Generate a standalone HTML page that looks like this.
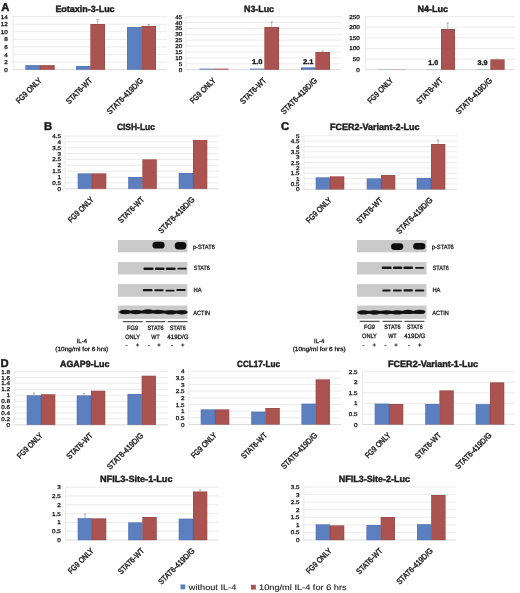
<!DOCTYPE html>
<html><head><meta charset="utf-8"><style>
html,body{margin:0;padding:0;background:#fff;}
svg{display:block;will-change:transform;}
text{font-family:"Liberation Sans", sans-serif;fill:#1a1a1a;text-rendering:geometricPrecision;}
</style></head><body>
<svg width="520" height="593" viewBox="0 0 520 593">
<rect width="520" height="593" fill="#fff"/>
<line x1="13.20" y1="69.70" x2="167.00" y2="69.70" stroke="#d0d0d0" stroke-width="0.8"/>
<line x1="13.20" y1="62.11" x2="167.00" y2="62.11" stroke="#e6e6e6" stroke-width="0.8"/>
<line x1="13.20" y1="54.53" x2="167.00" y2="54.53" stroke="#e6e6e6" stroke-width="0.8"/>
<line x1="13.20" y1="46.94" x2="167.00" y2="46.94" stroke="#e6e6e6" stroke-width="0.8"/>
<line x1="13.20" y1="39.36" x2="167.00" y2="39.36" stroke="#e6e6e6" stroke-width="0.8"/>
<line x1="13.20" y1="31.77" x2="167.00" y2="31.77" stroke="#e6e6e6" stroke-width="0.8"/>
<line x1="13.20" y1="24.19" x2="167.00" y2="24.19" stroke="#e6e6e6" stroke-width="0.8"/>
<line x1="13.20" y1="16.60" x2="167.00" y2="16.60" stroke="#e6e6e6" stroke-width="0.8"/>
<line x1="13.20" y1="16.60" x2="13.20" y2="69.70" stroke="#e4e4e4" stroke-width="0.8"/>
<text x="7.90" y="71.72" font-size="5.6" textLength="3.55" lengthAdjust="spacingAndGlyphs" text-anchor="end" stroke="#1a1a1a" stroke-width="0.28">0</text>
<text x="7.90" y="64.13" font-size="5.6" textLength="3.55" lengthAdjust="spacingAndGlyphs" text-anchor="end" stroke="#1a1a1a" stroke-width="0.28">2</text>
<text x="7.90" y="56.54" font-size="5.6" textLength="3.55" lengthAdjust="spacingAndGlyphs" text-anchor="end" stroke="#1a1a1a" stroke-width="0.28">4</text>
<text x="7.90" y="48.96" font-size="5.6" textLength="3.55" lengthAdjust="spacingAndGlyphs" text-anchor="end" stroke="#1a1a1a" stroke-width="0.28">6</text>
<text x="7.90" y="41.37" font-size="5.6" textLength="3.55" lengthAdjust="spacingAndGlyphs" text-anchor="end" stroke="#1a1a1a" stroke-width="0.28">8</text>
<text x="7.90" y="33.79" font-size="5.6" textLength="7.10" lengthAdjust="spacingAndGlyphs" text-anchor="end" stroke="#1a1a1a" stroke-width="0.28">10</text>
<text x="7.90" y="26.20" font-size="5.6" textLength="7.10" lengthAdjust="spacingAndGlyphs" text-anchor="end" stroke="#1a1a1a" stroke-width="0.28">12</text>
<text x="7.90" y="18.62" font-size="5.6" textLength="7.10" lengthAdjust="spacingAndGlyphs" text-anchor="end" stroke="#1a1a1a" stroke-width="0.28">14</text>
<rect x="25.50" y="65.20" width="14.50" height="4.50" fill="#5c7fc0"/>
<rect x="25.80" y="65.50" width="13.90" height="4.20" fill="none" stroke="#4c6aa8" stroke-width="0.6" stroke-opacity="0.6"/>
<rect x="40.00" y="65.20" width="14.50" height="4.50" fill="#aa5350"/>
<rect x="40.30" y="65.50" width="13.90" height="4.20" fill="none" stroke="#8e4242" stroke-width="0.6" stroke-opacity="0.6"/>
<rect x="76.00" y="66.00" width="14.50" height="3.70" fill="#5c7fc0"/>
<rect x="76.30" y="66.30" width="13.90" height="3.40" fill="none" stroke="#4c6aa8" stroke-width="0.6" stroke-opacity="0.6"/>
<rect x="90.50" y="24.00" width="14.50" height="45.70" fill="#aa5350"/>
<rect x="90.80" y="24.30" width="13.90" height="45.40" fill="none" stroke="#8e4242" stroke-width="0.6" stroke-opacity="0.6"/>
<rect x="127.00" y="27.00" width="14.50" height="42.70" fill="#5c7fc0"/>
<rect x="127.30" y="27.30" width="13.90" height="42.40" fill="none" stroke="#4c6aa8" stroke-width="0.6" stroke-opacity="0.6"/>
<rect x="141.50" y="26.00" width="14.50" height="43.70" fill="#aa5350"/>
<rect x="141.80" y="26.30" width="13.90" height="43.40" fill="none" stroke="#8e4242" stroke-width="0.6" stroke-opacity="0.6"/>
<path d="M97.75 24.00V19.40M96.55 19.40H98.95" stroke="#8a9a9a" stroke-width="0.7" fill="none"/>
<path d="M148.75 26.00V24.50M147.55 24.50H149.95" stroke="#8a9a9a" stroke-width="0.7" fill="none"/>
<text x="55.40" y="11.90" font-size="9.0" font-weight="bold" textLength="59.20" lengthAdjust="spacingAndGlyphs" stroke="#1a1a1a" stroke-width="0.42">Eotaxin-3-Luc</text>
<text x="42.20" y="81.00" font-size="8.1" text-anchor="end" stroke="#1a1a1a" stroke-width="0.4" transform="rotate(-45 42.20 81.00)" textLength="32.60" lengthAdjust="spacingAndGlyphs">FG9 ONLY</text>
<text x="92.70" y="81.00" font-size="8.1" text-anchor="end" stroke="#1a1a1a" stroke-width="0.4" transform="rotate(-45 92.70 81.00)" textLength="33.20" lengthAdjust="spacingAndGlyphs">STAT6-WT</text>
<text x="143.70" y="81.00" font-size="8.1" text-anchor="end" stroke="#1a1a1a" stroke-width="0.4" transform="rotate(-45 143.70 81.00)" textLength="47.80" lengthAdjust="spacingAndGlyphs">STAT6-419D/G</text>
<line x1="186.00" y1="69.70" x2="341.00" y2="69.70" stroke="#d0d0d0" stroke-width="0.8"/>
<line x1="186.00" y1="63.80" x2="341.00" y2="63.80" stroke="#e6e6e6" stroke-width="0.8"/>
<line x1="186.00" y1="57.90" x2="341.00" y2="57.90" stroke="#e6e6e6" stroke-width="0.8"/>
<line x1="186.00" y1="52.00" x2="341.00" y2="52.00" stroke="#e6e6e6" stroke-width="0.8"/>
<line x1="186.00" y1="46.10" x2="341.00" y2="46.10" stroke="#e6e6e6" stroke-width="0.8"/>
<line x1="186.00" y1="40.20" x2="341.00" y2="40.20" stroke="#e6e6e6" stroke-width="0.8"/>
<line x1="186.00" y1="34.30" x2="341.00" y2="34.30" stroke="#e6e6e6" stroke-width="0.8"/>
<line x1="186.00" y1="28.40" x2="341.00" y2="28.40" stroke="#e6e6e6" stroke-width="0.8"/>
<line x1="186.00" y1="22.50" x2="341.00" y2="22.50" stroke="#e6e6e6" stroke-width="0.8"/>
<line x1="186.00" y1="16.60" x2="341.00" y2="16.60" stroke="#e6e6e6" stroke-width="0.8"/>
<line x1="186.00" y1="16.60" x2="186.00" y2="69.70" stroke="#e4e4e4" stroke-width="0.8"/>
<text x="182.40" y="71.72" font-size="5.6" textLength="3.55" lengthAdjust="spacingAndGlyphs" text-anchor="end" stroke="#1a1a1a" stroke-width="0.28">0</text>
<text x="182.40" y="65.82" font-size="5.6" textLength="3.55" lengthAdjust="spacingAndGlyphs" text-anchor="end" stroke="#1a1a1a" stroke-width="0.28">5</text>
<text x="182.40" y="59.92" font-size="5.6" textLength="7.10" lengthAdjust="spacingAndGlyphs" text-anchor="end" stroke="#1a1a1a" stroke-width="0.28">10</text>
<text x="182.40" y="54.02" font-size="5.6" textLength="7.10" lengthAdjust="spacingAndGlyphs" text-anchor="end" stroke="#1a1a1a" stroke-width="0.28">15</text>
<text x="182.40" y="48.12" font-size="5.6" textLength="7.10" lengthAdjust="spacingAndGlyphs" text-anchor="end" stroke="#1a1a1a" stroke-width="0.28">20</text>
<text x="182.40" y="42.22" font-size="5.6" textLength="7.10" lengthAdjust="spacingAndGlyphs" text-anchor="end" stroke="#1a1a1a" stroke-width="0.28">25</text>
<text x="182.40" y="36.32" font-size="5.6" textLength="7.10" lengthAdjust="spacingAndGlyphs" text-anchor="end" stroke="#1a1a1a" stroke-width="0.28">30</text>
<text x="182.40" y="30.42" font-size="5.6" textLength="7.10" lengthAdjust="spacingAndGlyphs" text-anchor="end" stroke="#1a1a1a" stroke-width="0.28">35</text>
<text x="182.40" y="24.52" font-size="5.6" textLength="7.10" lengthAdjust="spacingAndGlyphs" text-anchor="end" stroke="#1a1a1a" stroke-width="0.28">40</text>
<text x="182.40" y="18.62" font-size="5.6" textLength="7.10" lengthAdjust="spacingAndGlyphs" text-anchor="end" stroke="#1a1a1a" stroke-width="0.28">45</text>
<rect x="199.50" y="68.60" width="14.50" height="1.10" fill="#5c7fc0"/>
<rect x="214.00" y="68.60" width="14.50" height="1.10" fill="#aa5350"/>
<rect x="250.00" y="68.60" width="14.50" height="1.10" fill="#5c7fc0"/>
<rect x="264.50" y="27.00" width="14.50" height="42.70" fill="#aa5350"/>
<rect x="264.80" y="27.30" width="13.90" height="42.40" fill="none" stroke="#8e4242" stroke-width="0.6" stroke-opacity="0.6"/>
<rect x="301.00" y="67.50" width="14.50" height="2.20" fill="#5c7fc0"/>
<rect x="301.30" y="67.80" width="13.90" height="1.90" fill="none" stroke="#4c6aa8" stroke-width="0.6" stroke-opacity="0.6"/>
<rect x="315.50" y="52.00" width="14.50" height="17.70" fill="#aa5350"/>
<rect x="315.80" y="52.30" width="13.90" height="17.40" fill="none" stroke="#8e4242" stroke-width="0.6" stroke-opacity="0.6"/>
<path d="M271.75 27.00V22.00M270.55 22.00H272.95" stroke="#8a9a9a" stroke-width="0.7" fill="none"/>
<path d="M322.75 52.00V51.00M321.55 51.00H323.95" stroke="#8a9a9a" stroke-width="0.7" fill="none"/>
<text x="244.00" y="11.90" font-size="9.0" font-weight="bold" textLength="30.00" lengthAdjust="spacingAndGlyphs" stroke="#1a1a1a" stroke-width="0.42">N3-Luc</text>
<text x="216.20" y="81.00" font-size="8.1" text-anchor="end" stroke="#1a1a1a" stroke-width="0.4" transform="rotate(-45 216.20 81.00)" textLength="32.60" lengthAdjust="spacingAndGlyphs">FG9 ONLY</text>
<text x="266.70" y="81.00" font-size="8.1" text-anchor="end" stroke="#1a1a1a" stroke-width="0.4" transform="rotate(-45 266.70 81.00)" textLength="33.20" lengthAdjust="spacingAndGlyphs">STAT6-WT</text>
<text x="317.70" y="81.00" font-size="8.1" text-anchor="end" stroke="#1a1a1a" stroke-width="0.4" transform="rotate(-45 317.70 81.00)" textLength="47.80" lengthAdjust="spacingAndGlyphs">STAT6-419D/G</text>
<text x="252.00" y="64.20" font-size="6.8" font-weight="bold" textLength="10.50" lengthAdjust="spacingAndGlyphs" stroke="#1a1a1a" stroke-width="0.35">1.0</text>
<text x="303.00" y="64.20" font-size="6.8" font-weight="bold" textLength="10.50" lengthAdjust="spacingAndGlyphs" stroke="#1a1a1a" stroke-width="0.35">2.1</text>
<line x1="365.30" y1="69.70" x2="515.00" y2="69.70" stroke="#d0d0d0" stroke-width="0.8"/>
<line x1="365.30" y1="59.08" x2="515.00" y2="59.08" stroke="#e6e6e6" stroke-width="0.8"/>
<line x1="365.30" y1="48.46" x2="515.00" y2="48.46" stroke="#e6e6e6" stroke-width="0.8"/>
<line x1="365.30" y1="37.84" x2="515.00" y2="37.84" stroke="#e6e6e6" stroke-width="0.8"/>
<line x1="365.30" y1="27.22" x2="515.00" y2="27.22" stroke="#e6e6e6" stroke-width="0.8"/>
<line x1="365.30" y1="16.60" x2="515.00" y2="16.60" stroke="#e6e6e6" stroke-width="0.8"/>
<line x1="365.30" y1="16.60" x2="365.30" y2="69.70" stroke="#e4e4e4" stroke-width="0.8"/>
<text x="359.80" y="71.72" font-size="5.6" textLength="3.55" lengthAdjust="spacingAndGlyphs" text-anchor="end" stroke="#1a1a1a" stroke-width="0.28">0</text>
<text x="359.80" y="61.10" font-size="5.6" textLength="7.10" lengthAdjust="spacingAndGlyphs" text-anchor="end" stroke="#1a1a1a" stroke-width="0.28">50</text>
<text x="359.80" y="50.48" font-size="5.6" textLength="10.65" lengthAdjust="spacingAndGlyphs" text-anchor="end" stroke="#1a1a1a" stroke-width="0.28">100</text>
<text x="359.80" y="39.86" font-size="5.6" textLength="10.65" lengthAdjust="spacingAndGlyphs" text-anchor="end" stroke="#1a1a1a" stroke-width="0.28">150</text>
<text x="359.80" y="29.24" font-size="5.6" textLength="10.65" lengthAdjust="spacingAndGlyphs" text-anchor="end" stroke="#1a1a1a" stroke-width="0.28">200</text>
<text x="359.80" y="18.62" font-size="5.6" textLength="10.65" lengthAdjust="spacingAndGlyphs" text-anchor="end" stroke="#1a1a1a" stroke-width="0.28">250</text>
<rect x="377.50" y="69.40" width="14.00" height="0.30" fill="#5c7fc0"/>
<rect x="391.50" y="69.40" width="14.00" height="0.30" fill="#aa5350"/>
<rect x="427.00" y="69.40" width="14.00" height="0.30" fill="#5c7fc0"/>
<rect x="441.00" y="29.00" width="14.00" height="40.70" fill="#aa5350"/>
<rect x="441.30" y="29.30" width="13.40" height="40.40" fill="none" stroke="#8e4242" stroke-width="0.6" stroke-opacity="0.6"/>
<rect x="476.50" y="69.40" width="14.00" height="0.30" fill="#5c7fc0"/>
<rect x="490.50" y="59.50" width="14.00" height="10.20" fill="#aa5350"/>
<rect x="490.80" y="59.80" width="13.40" height="9.90" fill="none" stroke="#8e4242" stroke-width="0.6" stroke-opacity="0.6"/>
<path d="M447.75 29.00V23.00M446.55 23.00H448.95" stroke="#8a9a9a" stroke-width="0.7" fill="none"/>
<path d="M497.25 59.50V59.00M496.05 59.00H498.45" stroke="#8a9a9a" stroke-width="0.7" fill="none"/>
<text x="417.50" y="11.90" font-size="9.0" font-weight="bold" textLength="30.50" lengthAdjust="spacingAndGlyphs" stroke="#1a1a1a" stroke-width="0.42">N4-Luc</text>
<text x="393.70" y="81.00" font-size="8.1" text-anchor="end" stroke="#1a1a1a" stroke-width="0.4" transform="rotate(-45 393.70 81.00)" textLength="32.60" lengthAdjust="spacingAndGlyphs">FG9 ONLY</text>
<text x="443.20" y="81.00" font-size="8.1" text-anchor="end" stroke="#1a1a1a" stroke-width="0.4" transform="rotate(-45 443.20 81.00)" textLength="33.20" lengthAdjust="spacingAndGlyphs">STAT6-WT</text>
<text x="492.70" y="81.00" font-size="8.1" text-anchor="end" stroke="#1a1a1a" stroke-width="0.4" transform="rotate(-45 492.70 81.00)" textLength="47.80" lengthAdjust="spacingAndGlyphs">STAT6-419D/G</text>
<text x="428.20" y="65.20" font-size="6.8" font-weight="bold" textLength="10.00" lengthAdjust="spacingAndGlyphs" stroke="#1a1a1a" stroke-width="0.35">1.0</text>
<text x="477.60" y="65.20" font-size="6.8" font-weight="bold" textLength="10.00" lengthAdjust="spacingAndGlyphs" stroke="#1a1a1a" stroke-width="0.35">3.9</text>
<line x1="65.00" y1="188.80" x2="219.00" y2="188.80" stroke="#d0d0d0" stroke-width="0.8"/>
<line x1="65.00" y1="182.93" x2="219.00" y2="182.93" stroke="#e6e6e6" stroke-width="0.8"/>
<line x1="65.00" y1="177.07" x2="219.00" y2="177.07" stroke="#e6e6e6" stroke-width="0.8"/>
<line x1="65.00" y1="171.20" x2="219.00" y2="171.20" stroke="#e6e6e6" stroke-width="0.8"/>
<line x1="65.00" y1="165.33" x2="219.00" y2="165.33" stroke="#e6e6e6" stroke-width="0.8"/>
<line x1="65.00" y1="159.47" x2="219.00" y2="159.47" stroke="#e6e6e6" stroke-width="0.8"/>
<line x1="65.00" y1="153.60" x2="219.00" y2="153.60" stroke="#e6e6e6" stroke-width="0.8"/>
<line x1="65.00" y1="147.73" x2="219.00" y2="147.73" stroke="#e6e6e6" stroke-width="0.8"/>
<line x1="65.00" y1="141.87" x2="219.00" y2="141.87" stroke="#e6e6e6" stroke-width="0.8"/>
<line x1="65.00" y1="136.00" x2="219.00" y2="136.00" stroke="#e6e6e6" stroke-width="0.8"/>
<line x1="65.00" y1="136.00" x2="65.00" y2="188.80" stroke="#e4e4e4" stroke-width="0.8"/>
<text x="61.00" y="190.82" font-size="5.6" textLength="3.55" lengthAdjust="spacingAndGlyphs" text-anchor="end" stroke="#1a1a1a" stroke-width="0.28">0</text>
<text x="61.00" y="184.95" font-size="5.6" textLength="8.72" lengthAdjust="spacingAndGlyphs" text-anchor="end" stroke="#1a1a1a" stroke-width="0.28">0.5</text>
<text x="61.00" y="179.08" font-size="5.6" textLength="3.55" lengthAdjust="spacingAndGlyphs" text-anchor="end" stroke="#1a1a1a" stroke-width="0.28">1</text>
<text x="61.00" y="173.22" font-size="5.6" textLength="8.72" lengthAdjust="spacingAndGlyphs" text-anchor="end" stroke="#1a1a1a" stroke-width="0.28">1.5</text>
<text x="61.00" y="167.35" font-size="5.6" textLength="3.55" lengthAdjust="spacingAndGlyphs" text-anchor="end" stroke="#1a1a1a" stroke-width="0.28">2</text>
<text x="61.00" y="161.48" font-size="5.6" textLength="8.72" lengthAdjust="spacingAndGlyphs" text-anchor="end" stroke="#1a1a1a" stroke-width="0.28">2.5</text>
<text x="61.00" y="155.62" font-size="5.6" textLength="3.55" lengthAdjust="spacingAndGlyphs" text-anchor="end" stroke="#1a1a1a" stroke-width="0.28">3</text>
<text x="61.00" y="149.75" font-size="5.6" textLength="8.72" lengthAdjust="spacingAndGlyphs" text-anchor="end" stroke="#1a1a1a" stroke-width="0.28">3.5</text>
<text x="61.00" y="143.88" font-size="5.6" textLength="3.55" lengthAdjust="spacingAndGlyphs" text-anchor="end" stroke="#1a1a1a" stroke-width="0.28">4</text>
<text x="61.00" y="138.02" font-size="5.6" textLength="8.72" lengthAdjust="spacingAndGlyphs" text-anchor="end" stroke="#1a1a1a" stroke-width="0.28">4.5</text>
<rect x="77.80" y="173.50" width="14.20" height="15.30" fill="#5c7fc0"/>
<rect x="78.10" y="173.80" width="13.60" height="15.00" fill="none" stroke="#4c6aa8" stroke-width="0.6" stroke-opacity="0.6"/>
<rect x="92.00" y="173.50" width="14.20" height="15.30" fill="#aa5350"/>
<rect x="92.30" y="173.80" width="13.60" height="15.00" fill="none" stroke="#8e4242" stroke-width="0.6" stroke-opacity="0.6"/>
<rect x="128.30" y="177.00" width="14.20" height="11.80" fill="#5c7fc0"/>
<rect x="128.60" y="177.30" width="13.60" height="11.50" fill="none" stroke="#4c6aa8" stroke-width="0.6" stroke-opacity="0.6"/>
<rect x="142.50" y="159.50" width="14.20" height="29.30" fill="#aa5350"/>
<rect x="142.80" y="159.80" width="13.60" height="29.00" fill="none" stroke="#8e4242" stroke-width="0.6" stroke-opacity="0.6"/>
<rect x="178.80" y="173.00" width="14.20" height="15.80" fill="#5c7fc0"/>
<rect x="179.10" y="173.30" width="13.60" height="15.50" fill="none" stroke="#4c6aa8" stroke-width="0.6" stroke-opacity="0.6"/>
<rect x="193.00" y="140.00" width="14.20" height="48.80" fill="#aa5350"/>
<rect x="193.30" y="140.30" width="13.60" height="48.50" fill="none" stroke="#8e4242" stroke-width="0.6" stroke-opacity="0.6"/>
<text x="116.90" y="129.80" font-size="9.0" font-weight="bold" textLength="38.00" lengthAdjust="spacingAndGlyphs" stroke="#1a1a1a" stroke-width="0.42">CISH-Luc</text>
<text x="94.20" y="200.10" font-size="8.1" text-anchor="end" stroke="#1a1a1a" stroke-width="0.4" transform="rotate(-45 94.20 200.10)" textLength="32.60" lengthAdjust="spacingAndGlyphs">FG9 ONLY</text>
<text x="144.70" y="200.10" font-size="8.1" text-anchor="end" stroke="#1a1a1a" stroke-width="0.4" transform="rotate(-45 144.70 200.10)" textLength="33.20" lengthAdjust="spacingAndGlyphs">STAT6-WT</text>
<text x="195.20" y="200.10" font-size="8.1" text-anchor="end" stroke="#1a1a1a" stroke-width="0.4" transform="rotate(-45 195.20 200.10)" textLength="47.80" lengthAdjust="spacingAndGlyphs">STAT6-419D/G</text>
<line x1="304.00" y1="189.30" x2="457.00" y2="189.30" stroke="#d0d0d0" stroke-width="0.8"/>
<line x1="304.00" y1="183.95" x2="457.00" y2="183.95" stroke="#e6e6e6" stroke-width="0.8"/>
<line x1="304.00" y1="178.60" x2="457.00" y2="178.60" stroke="#e6e6e6" stroke-width="0.8"/>
<line x1="304.00" y1="173.25" x2="457.00" y2="173.25" stroke="#e6e6e6" stroke-width="0.8"/>
<line x1="304.00" y1="167.90" x2="457.00" y2="167.90" stroke="#e6e6e6" stroke-width="0.8"/>
<line x1="304.00" y1="162.55" x2="457.00" y2="162.55" stroke="#e6e6e6" stroke-width="0.8"/>
<line x1="304.00" y1="157.20" x2="457.00" y2="157.20" stroke="#e6e6e6" stroke-width="0.8"/>
<line x1="304.00" y1="151.85" x2="457.00" y2="151.85" stroke="#e6e6e6" stroke-width="0.8"/>
<line x1="304.00" y1="146.50" x2="457.00" y2="146.50" stroke="#e6e6e6" stroke-width="0.8"/>
<line x1="304.00" y1="141.15" x2="457.00" y2="141.15" stroke="#e6e6e6" stroke-width="0.8"/>
<line x1="304.00" y1="135.80" x2="457.00" y2="135.80" stroke="#e6e6e6" stroke-width="0.8"/>
<line x1="304.00" y1="135.80" x2="304.00" y2="189.30" stroke="#e4e4e4" stroke-width="0.8"/>
<text x="299.50" y="191.32" font-size="5.6" textLength="3.55" lengthAdjust="spacingAndGlyphs" text-anchor="end" stroke="#1a1a1a" stroke-width="0.28">0</text>
<text x="299.50" y="185.97" font-size="5.6" textLength="8.72" lengthAdjust="spacingAndGlyphs" text-anchor="end" stroke="#1a1a1a" stroke-width="0.28">0.5</text>
<text x="299.50" y="180.62" font-size="5.6" textLength="3.55" lengthAdjust="spacingAndGlyphs" text-anchor="end" stroke="#1a1a1a" stroke-width="0.28">1</text>
<text x="299.50" y="175.27" font-size="5.6" textLength="8.72" lengthAdjust="spacingAndGlyphs" text-anchor="end" stroke="#1a1a1a" stroke-width="0.28">1.5</text>
<text x="299.50" y="169.92" font-size="5.6" textLength="3.55" lengthAdjust="spacingAndGlyphs" text-anchor="end" stroke="#1a1a1a" stroke-width="0.28">2</text>
<text x="299.50" y="164.57" font-size="5.6" textLength="8.72" lengthAdjust="spacingAndGlyphs" text-anchor="end" stroke="#1a1a1a" stroke-width="0.28">2.5</text>
<text x="299.50" y="159.22" font-size="5.6" textLength="3.55" lengthAdjust="spacingAndGlyphs" text-anchor="end" stroke="#1a1a1a" stroke-width="0.28">3</text>
<text x="299.50" y="153.87" font-size="5.6" textLength="8.72" lengthAdjust="spacingAndGlyphs" text-anchor="end" stroke="#1a1a1a" stroke-width="0.28">3.5</text>
<text x="299.50" y="148.52" font-size="5.6" textLength="3.55" lengthAdjust="spacingAndGlyphs" text-anchor="end" stroke="#1a1a1a" stroke-width="0.28">4</text>
<text x="299.50" y="143.17" font-size="5.6" textLength="8.72" lengthAdjust="spacingAndGlyphs" text-anchor="end" stroke="#1a1a1a" stroke-width="0.28">4.5</text>
<text x="299.50" y="137.82" font-size="5.6" textLength="3.55" lengthAdjust="spacingAndGlyphs" text-anchor="end" stroke="#1a1a1a" stroke-width="0.28">5</text>
<rect x="315.80" y="177.50" width="14.20" height="11.80" fill="#5c7fc0"/>
<rect x="316.10" y="177.80" width="13.60" height="11.50" fill="none" stroke="#4c6aa8" stroke-width="0.6" stroke-opacity="0.6"/>
<rect x="330.00" y="176.50" width="14.20" height="12.80" fill="#aa5350"/>
<rect x="330.30" y="176.80" width="13.60" height="12.50" fill="none" stroke="#8e4242" stroke-width="0.6" stroke-opacity="0.6"/>
<rect x="366.80" y="178.50" width="14.20" height="10.80" fill="#5c7fc0"/>
<rect x="367.10" y="178.80" width="13.60" height="10.50" fill="none" stroke="#4c6aa8" stroke-width="0.6" stroke-opacity="0.6"/>
<rect x="381.00" y="175.00" width="14.20" height="14.30" fill="#aa5350"/>
<rect x="381.30" y="175.30" width="13.60" height="14.00" fill="none" stroke="#8e4242" stroke-width="0.6" stroke-opacity="0.6"/>
<rect x="416.80" y="178.00" width="14.20" height="11.30" fill="#5c7fc0"/>
<rect x="417.10" y="178.30" width="13.60" height="11.00" fill="none" stroke="#4c6aa8" stroke-width="0.6" stroke-opacity="0.6"/>
<rect x="431.00" y="144.00" width="14.20" height="45.30" fill="#aa5350"/>
<rect x="431.30" y="144.30" width="13.60" height="45.00" fill="none" stroke="#8e4242" stroke-width="0.6" stroke-opacity="0.6"/>
<path d="M438.10 144.00V140.00M436.90 140.00H439.30" stroke="#8a9a9a" stroke-width="0.7" fill="none"/>
<text x="330.00" y="130.00" font-size="9.0" font-weight="bold" textLength="89.50" lengthAdjust="spacingAndGlyphs" stroke="#1a1a1a" stroke-width="0.42">FCER2-Variant-2-Luc</text>
<text x="332.20" y="200.60" font-size="8.1" text-anchor="end" stroke="#1a1a1a" stroke-width="0.4" transform="rotate(-45 332.20 200.60)" textLength="32.60" lengthAdjust="spacingAndGlyphs">FG9 ONLY</text>
<text x="383.20" y="200.60" font-size="8.1" text-anchor="end" stroke="#1a1a1a" stroke-width="0.4" transform="rotate(-45 383.20 200.60)" textLength="33.20" lengthAdjust="spacingAndGlyphs">STAT6-WT</text>
<text x="433.20" y="200.60" font-size="8.1" text-anchor="end" stroke="#1a1a1a" stroke-width="0.4" transform="rotate(-45 433.20 200.60)" textLength="47.80" lengthAdjust="spacingAndGlyphs">STAT6-419D/G</text>
<line x1="14.70" y1="424.80" x2="168.00" y2="424.80" stroke="#d0d0d0" stroke-width="0.8"/>
<line x1="14.70" y1="418.89" x2="168.00" y2="418.89" stroke="#e6e6e6" stroke-width="0.8"/>
<line x1="14.70" y1="412.98" x2="168.00" y2="412.98" stroke="#e6e6e6" stroke-width="0.8"/>
<line x1="14.70" y1="407.07" x2="168.00" y2="407.07" stroke="#e6e6e6" stroke-width="0.8"/>
<line x1="14.70" y1="401.16" x2="168.00" y2="401.16" stroke="#e6e6e6" stroke-width="0.8"/>
<line x1="14.70" y1="395.24" x2="168.00" y2="395.24" stroke="#e6e6e6" stroke-width="0.8"/>
<line x1="14.70" y1="389.33" x2="168.00" y2="389.33" stroke="#e6e6e6" stroke-width="0.8"/>
<line x1="14.70" y1="383.42" x2="168.00" y2="383.42" stroke="#e6e6e6" stroke-width="0.8"/>
<line x1="14.70" y1="377.51" x2="168.00" y2="377.51" stroke="#e6e6e6" stroke-width="0.8"/>
<line x1="14.70" y1="371.60" x2="168.00" y2="371.60" stroke="#e6e6e6" stroke-width="0.8"/>
<line x1="14.70" y1="371.60" x2="14.70" y2="424.80" stroke="#e4e4e4" stroke-width="0.8"/>
<text x="10.00" y="426.82" font-size="5.6" textLength="3.55" lengthAdjust="spacingAndGlyphs" text-anchor="end" stroke="#1a1a1a" stroke-width="0.28">0</text>
<text x="10.00" y="420.90" font-size="5.6" textLength="8.72" lengthAdjust="spacingAndGlyphs" text-anchor="end" stroke="#1a1a1a" stroke-width="0.28">0.2</text>
<text x="10.00" y="414.99" font-size="5.6" textLength="8.72" lengthAdjust="spacingAndGlyphs" text-anchor="end" stroke="#1a1a1a" stroke-width="0.28">0.4</text>
<text x="10.00" y="409.08" font-size="5.6" textLength="8.72" lengthAdjust="spacingAndGlyphs" text-anchor="end" stroke="#1a1a1a" stroke-width="0.28">0.6</text>
<text x="10.00" y="403.17" font-size="5.6" textLength="8.72" lengthAdjust="spacingAndGlyphs" text-anchor="end" stroke="#1a1a1a" stroke-width="0.28">0.8</text>
<text x="10.00" y="397.26" font-size="5.6" textLength="3.55" lengthAdjust="spacingAndGlyphs" text-anchor="end" stroke="#1a1a1a" stroke-width="0.28">1</text>
<text x="10.00" y="391.35" font-size="5.6" textLength="8.72" lengthAdjust="spacingAndGlyphs" text-anchor="end" stroke="#1a1a1a" stroke-width="0.28">1.2</text>
<text x="10.00" y="385.44" font-size="5.6" textLength="8.72" lengthAdjust="spacingAndGlyphs" text-anchor="end" stroke="#1a1a1a" stroke-width="0.28">1.4</text>
<text x="10.00" y="379.53" font-size="5.6" textLength="8.72" lengthAdjust="spacingAndGlyphs" text-anchor="end" stroke="#1a1a1a" stroke-width="0.28">1.6</text>
<text x="10.00" y="373.62" font-size="5.6" textLength="8.72" lengthAdjust="spacingAndGlyphs" text-anchor="end" stroke="#1a1a1a" stroke-width="0.28">1.8</text>
<rect x="26.80" y="395.40" width="14.20" height="29.40" fill="#5c7fc0"/>
<rect x="27.10" y="395.70" width="13.60" height="29.10" fill="none" stroke="#4c6aa8" stroke-width="0.6" stroke-opacity="0.6"/>
<rect x="41.00" y="394.40" width="14.20" height="30.40" fill="#aa5350"/>
<rect x="41.30" y="394.70" width="13.60" height="30.10" fill="none" stroke="#8e4242" stroke-width="0.6" stroke-opacity="0.6"/>
<rect x="76.80" y="395.50" width="14.20" height="29.30" fill="#5c7fc0"/>
<rect x="77.10" y="395.80" width="13.60" height="29.00" fill="none" stroke="#4c6aa8" stroke-width="0.6" stroke-opacity="0.6"/>
<rect x="91.00" y="390.80" width="14.20" height="34.00" fill="#aa5350"/>
<rect x="91.30" y="391.10" width="13.60" height="33.70" fill="none" stroke="#8e4242" stroke-width="0.6" stroke-opacity="0.6"/>
<rect x="127.55" y="394.00" width="14.20" height="30.80" fill="#5c7fc0"/>
<rect x="127.85" y="394.30" width="13.60" height="30.50" fill="none" stroke="#4c6aa8" stroke-width="0.6" stroke-opacity="0.6"/>
<rect x="141.75" y="375.80" width="14.20" height="49.00" fill="#aa5350"/>
<rect x="142.05" y="376.10" width="13.60" height="48.70" fill="none" stroke="#8e4242" stroke-width="0.6" stroke-opacity="0.6"/>
<path d="M33.90 395.40V393.00M32.70 393.00H35.10" stroke="#8a9a9a" stroke-width="0.7" fill="none"/>
<path d="M84.00 395.50V393.50M82.80 393.50H85.20" stroke="#8a9a9a" stroke-width="0.7" fill="none"/>
<text x="60.00" y="367.30" font-size="9.0" font-weight="bold" textLength="49.50" lengthAdjust="spacingAndGlyphs" stroke="#1a1a1a" stroke-width="0.42">AGAP9-Luc</text>
<text x="43.20" y="436.10" font-size="8.1" text-anchor="end" stroke="#1a1a1a" stroke-width="0.4" transform="rotate(-45 43.20 436.10)" textLength="32.60" lengthAdjust="spacingAndGlyphs">FG9 ONLY</text>
<text x="93.20" y="436.10" font-size="8.1" text-anchor="end" stroke="#1a1a1a" stroke-width="0.4" transform="rotate(-45 93.20 436.10)" textLength="33.20" lengthAdjust="spacingAndGlyphs">STAT6-WT</text>
<text x="143.95" y="436.10" font-size="8.1" text-anchor="end" stroke="#1a1a1a" stroke-width="0.4" transform="rotate(-45 143.95 436.10)" textLength="47.80" lengthAdjust="spacingAndGlyphs">STAT6-419D/G</text>
<line x1="188.75" y1="424.50" x2="341.00" y2="424.50" stroke="#d0d0d0" stroke-width="0.8"/>
<line x1="188.75" y1="417.84" x2="341.00" y2="417.84" stroke="#e6e6e6" stroke-width="0.8"/>
<line x1="188.75" y1="411.19" x2="341.00" y2="411.19" stroke="#e6e6e6" stroke-width="0.8"/>
<line x1="188.75" y1="404.53" x2="341.00" y2="404.53" stroke="#e6e6e6" stroke-width="0.8"/>
<line x1="188.75" y1="397.88" x2="341.00" y2="397.88" stroke="#e6e6e6" stroke-width="0.8"/>
<line x1="188.75" y1="391.22" x2="341.00" y2="391.22" stroke="#e6e6e6" stroke-width="0.8"/>
<line x1="188.75" y1="384.56" x2="341.00" y2="384.56" stroke="#e6e6e6" stroke-width="0.8"/>
<line x1="188.75" y1="377.91" x2="341.00" y2="377.91" stroke="#e6e6e6" stroke-width="0.8"/>
<line x1="188.75" y1="371.25" x2="341.00" y2="371.25" stroke="#e6e6e6" stroke-width="0.8"/>
<line x1="188.75" y1="371.25" x2="188.75" y2="424.50" stroke="#e4e4e4" stroke-width="0.8"/>
<text x="184.50" y="426.52" font-size="5.6" textLength="3.55" lengthAdjust="spacingAndGlyphs" text-anchor="end" stroke="#1a1a1a" stroke-width="0.28">0</text>
<text x="184.50" y="419.86" font-size="5.6" textLength="8.72" lengthAdjust="spacingAndGlyphs" text-anchor="end" stroke="#1a1a1a" stroke-width="0.28">0.5</text>
<text x="184.50" y="413.20" font-size="5.6" textLength="3.55" lengthAdjust="spacingAndGlyphs" text-anchor="end" stroke="#1a1a1a" stroke-width="0.28">1</text>
<text x="184.50" y="406.55" font-size="5.6" textLength="8.72" lengthAdjust="spacingAndGlyphs" text-anchor="end" stroke="#1a1a1a" stroke-width="0.28">1.5</text>
<text x="184.50" y="399.89" font-size="5.6" textLength="3.55" lengthAdjust="spacingAndGlyphs" text-anchor="end" stroke="#1a1a1a" stroke-width="0.28">2</text>
<text x="184.50" y="393.23" font-size="5.6" textLength="8.72" lengthAdjust="spacingAndGlyphs" text-anchor="end" stroke="#1a1a1a" stroke-width="0.28">2.5</text>
<text x="184.50" y="386.58" font-size="5.6" textLength="3.55" lengthAdjust="spacingAndGlyphs" text-anchor="end" stroke="#1a1a1a" stroke-width="0.28">3</text>
<text x="184.50" y="379.92" font-size="5.6" textLength="8.72" lengthAdjust="spacingAndGlyphs" text-anchor="end" stroke="#1a1a1a" stroke-width="0.28">3.5</text>
<text x="184.50" y="373.27" font-size="5.6" textLength="3.55" lengthAdjust="spacingAndGlyphs" text-anchor="end" stroke="#1a1a1a" stroke-width="0.28">4</text>
<rect x="200.80" y="409.50" width="14.20" height="15.00" fill="#5c7fc0"/>
<rect x="201.10" y="409.80" width="13.60" height="14.70" fill="none" stroke="#4c6aa8" stroke-width="0.6" stroke-opacity="0.6"/>
<rect x="215.00" y="409.50" width="14.20" height="15.00" fill="#aa5350"/>
<rect x="215.30" y="409.80" width="13.60" height="14.70" fill="none" stroke="#8e4242" stroke-width="0.6" stroke-opacity="0.6"/>
<rect x="251.30" y="411.75" width="14.20" height="12.75" fill="#5c7fc0"/>
<rect x="251.60" y="412.05" width="13.60" height="12.45" fill="none" stroke="#4c6aa8" stroke-width="0.6" stroke-opacity="0.6"/>
<rect x="265.50" y="408.00" width="14.20" height="16.50" fill="#aa5350"/>
<rect x="265.80" y="408.30" width="13.60" height="16.20" fill="none" stroke="#8e4242" stroke-width="0.6" stroke-opacity="0.6"/>
<rect x="301.55" y="403.75" width="14.20" height="20.75" fill="#5c7fc0"/>
<rect x="301.85" y="404.05" width="13.60" height="20.45" fill="none" stroke="#4c6aa8" stroke-width="0.6" stroke-opacity="0.6"/>
<rect x="315.75" y="379.50" width="14.20" height="45.00" fill="#aa5350"/>
<rect x="316.05" y="379.80" width="13.60" height="44.70" fill="none" stroke="#8e4242" stroke-width="0.6" stroke-opacity="0.6"/>
<text x="237.00" y="367.30" font-size="9.0" font-weight="bold" textLength="43.00" lengthAdjust="spacingAndGlyphs" stroke="#1a1a1a" stroke-width="0.42">CCL17-Luc</text>
<text x="217.20" y="435.80" font-size="8.1" text-anchor="end" stroke="#1a1a1a" stroke-width="0.4" transform="rotate(-45 217.20 435.80)" textLength="32.60" lengthAdjust="spacingAndGlyphs">FG9 ONLY</text>
<text x="267.70" y="435.80" font-size="8.1" text-anchor="end" stroke="#1a1a1a" stroke-width="0.4" transform="rotate(-45 267.70 435.80)" textLength="33.20" lengthAdjust="spacingAndGlyphs">STAT6-WT</text>
<text x="317.95" y="435.80" font-size="8.1" text-anchor="end" stroke="#1a1a1a" stroke-width="0.4" transform="rotate(-45 317.95 435.80)" textLength="47.80" lengthAdjust="spacingAndGlyphs">STAT6-419D/G</text>
<line x1="362.50" y1="424.50" x2="515.00" y2="424.50" stroke="#d0d0d0" stroke-width="0.8"/>
<line x1="362.50" y1="413.95" x2="515.00" y2="413.95" stroke="#e6e6e6" stroke-width="0.8"/>
<line x1="362.50" y1="403.40" x2="515.00" y2="403.40" stroke="#e6e6e6" stroke-width="0.8"/>
<line x1="362.50" y1="392.85" x2="515.00" y2="392.85" stroke="#e6e6e6" stroke-width="0.8"/>
<line x1="362.50" y1="382.30" x2="515.00" y2="382.30" stroke="#e6e6e6" stroke-width="0.8"/>
<line x1="362.50" y1="371.75" x2="515.00" y2="371.75" stroke="#e6e6e6" stroke-width="0.8"/>
<line x1="362.50" y1="371.75" x2="362.50" y2="424.50" stroke="#e4e4e4" stroke-width="0.8"/>
<text x="357.50" y="426.52" font-size="5.6" textLength="3.55" lengthAdjust="spacingAndGlyphs" text-anchor="end" stroke="#1a1a1a" stroke-width="0.28">0</text>
<text x="357.50" y="415.97" font-size="5.6" textLength="8.72" lengthAdjust="spacingAndGlyphs" text-anchor="end" stroke="#1a1a1a" stroke-width="0.28">0.5</text>
<text x="357.50" y="405.42" font-size="5.6" textLength="3.55" lengthAdjust="spacingAndGlyphs" text-anchor="end" stroke="#1a1a1a" stroke-width="0.28">1</text>
<text x="357.50" y="394.87" font-size="5.6" textLength="8.72" lengthAdjust="spacingAndGlyphs" text-anchor="end" stroke="#1a1a1a" stroke-width="0.28">1.5</text>
<text x="357.50" y="384.32" font-size="5.6" textLength="3.55" lengthAdjust="spacingAndGlyphs" text-anchor="end" stroke="#1a1a1a" stroke-width="0.28">2</text>
<text x="357.50" y="373.77" font-size="5.6" textLength="8.72" lengthAdjust="spacingAndGlyphs" text-anchor="end" stroke="#1a1a1a" stroke-width="0.28">2.5</text>
<rect x="374.80" y="403.75" width="14.20" height="20.75" fill="#5c7fc0"/>
<rect x="375.10" y="404.05" width="13.60" height="20.45" fill="none" stroke="#4c6aa8" stroke-width="0.6" stroke-opacity="0.6"/>
<rect x="389.00" y="404.00" width="14.20" height="20.50" fill="#aa5350"/>
<rect x="389.30" y="404.30" width="13.60" height="20.20" fill="none" stroke="#8e4242" stroke-width="0.6" stroke-opacity="0.6"/>
<rect x="425.30" y="404.00" width="14.20" height="20.50" fill="#5c7fc0"/>
<rect x="425.60" y="404.30" width="13.60" height="20.20" fill="none" stroke="#4c6aa8" stroke-width="0.6" stroke-opacity="0.6"/>
<rect x="439.50" y="390.50" width="14.20" height="34.00" fill="#aa5350"/>
<rect x="439.80" y="390.80" width="13.60" height="33.70" fill="none" stroke="#8e4242" stroke-width="0.6" stroke-opacity="0.6"/>
<rect x="475.80" y="404.25" width="14.20" height="20.25" fill="#5c7fc0"/>
<rect x="476.10" y="404.55" width="13.60" height="19.95" fill="none" stroke="#4c6aa8" stroke-width="0.6" stroke-opacity="0.6"/>
<rect x="490.00" y="382.50" width="14.20" height="42.00" fill="#aa5350"/>
<rect x="490.30" y="382.80" width="13.60" height="41.70" fill="none" stroke="#8e4242" stroke-width="0.6" stroke-opacity="0.6"/>
<text x="388.00" y="367.30" font-size="9.0" font-weight="bold" textLength="90.00" lengthAdjust="spacingAndGlyphs" stroke="#1a1a1a" stroke-width="0.42">FCER2-Variant-1-Luc</text>
<text x="391.20" y="435.80" font-size="8.1" text-anchor="end" stroke="#1a1a1a" stroke-width="0.4" transform="rotate(-45 391.20 435.80)" textLength="32.60" lengthAdjust="spacingAndGlyphs">FG9 ONLY</text>
<text x="441.70" y="435.80" font-size="8.1" text-anchor="end" stroke="#1a1a1a" stroke-width="0.4" transform="rotate(-45 441.70 435.80)" textLength="33.20" lengthAdjust="spacingAndGlyphs">STAT6-WT</text>
<text x="492.20" y="435.80" font-size="8.1" text-anchor="end" stroke="#1a1a1a" stroke-width="0.4" transform="rotate(-45 492.20 435.80)" textLength="47.80" lengthAdjust="spacingAndGlyphs">STAT6-419D/G</text>
<line x1="65.60" y1="540.00" x2="218.75" y2="540.00" stroke="#d0d0d0" stroke-width="0.8"/>
<line x1="65.60" y1="531.18" x2="218.75" y2="531.18" stroke="#e6e6e6" stroke-width="0.8"/>
<line x1="65.60" y1="522.37" x2="218.75" y2="522.37" stroke="#e6e6e6" stroke-width="0.8"/>
<line x1="65.60" y1="513.55" x2="218.75" y2="513.55" stroke="#e6e6e6" stroke-width="0.8"/>
<line x1="65.60" y1="504.73" x2="218.75" y2="504.73" stroke="#e6e6e6" stroke-width="0.8"/>
<line x1="65.60" y1="495.92" x2="218.75" y2="495.92" stroke="#e6e6e6" stroke-width="0.8"/>
<line x1="65.60" y1="487.10" x2="218.75" y2="487.10" stroke="#e6e6e6" stroke-width="0.8"/>
<line x1="65.60" y1="487.10" x2="65.60" y2="540.00" stroke="#e4e4e4" stroke-width="0.8"/>
<text x="60.70" y="542.02" font-size="5.6" textLength="3.55" lengthAdjust="spacingAndGlyphs" text-anchor="end" stroke="#1a1a1a" stroke-width="0.28">0</text>
<text x="60.70" y="533.20" font-size="5.6" textLength="8.72" lengthAdjust="spacingAndGlyphs" text-anchor="end" stroke="#1a1a1a" stroke-width="0.28">0.5</text>
<text x="60.70" y="524.38" font-size="5.6" textLength="3.55" lengthAdjust="spacingAndGlyphs" text-anchor="end" stroke="#1a1a1a" stroke-width="0.28">1</text>
<text x="60.70" y="515.57" font-size="5.6" textLength="8.72" lengthAdjust="spacingAndGlyphs" text-anchor="end" stroke="#1a1a1a" stroke-width="0.28">1.5</text>
<text x="60.70" y="506.75" font-size="5.6" textLength="3.55" lengthAdjust="spacingAndGlyphs" text-anchor="end" stroke="#1a1a1a" stroke-width="0.28">2</text>
<text x="60.70" y="497.93" font-size="5.6" textLength="8.72" lengthAdjust="spacingAndGlyphs" text-anchor="end" stroke="#1a1a1a" stroke-width="0.28">2.5</text>
<text x="60.70" y="489.12" font-size="5.6" textLength="3.55" lengthAdjust="spacingAndGlyphs" text-anchor="end" stroke="#1a1a1a" stroke-width="0.28">3</text>
<rect x="77.80" y="518.25" width="14.20" height="21.75" fill="#5c7fc0"/>
<rect x="78.10" y="518.55" width="13.60" height="21.45" fill="none" stroke="#4c6aa8" stroke-width="0.6" stroke-opacity="0.6"/>
<rect x="92.00" y="518.50" width="14.20" height="21.50" fill="#aa5350"/>
<rect x="92.30" y="518.80" width="13.60" height="21.20" fill="none" stroke="#8e4242" stroke-width="0.6" stroke-opacity="0.6"/>
<rect x="128.30" y="522.50" width="14.20" height="17.50" fill="#5c7fc0"/>
<rect x="128.60" y="522.80" width="13.60" height="17.20" fill="none" stroke="#4c6aa8" stroke-width="0.6" stroke-opacity="0.6"/>
<rect x="142.50" y="517.00" width="14.20" height="23.00" fill="#aa5350"/>
<rect x="142.80" y="517.30" width="13.60" height="22.70" fill="none" stroke="#8e4242" stroke-width="0.6" stroke-opacity="0.6"/>
<rect x="178.80" y="518.75" width="14.20" height="21.25" fill="#5c7fc0"/>
<rect x="179.10" y="519.05" width="13.60" height="20.95" fill="none" stroke="#4c6aa8" stroke-width="0.6" stroke-opacity="0.6"/>
<rect x="193.00" y="491.60" width="14.20" height="48.40" fill="#aa5350"/>
<rect x="193.30" y="491.90" width="13.60" height="48.10" fill="none" stroke="#8e4242" stroke-width="0.6" stroke-opacity="0.6"/>
<path d="M85.00 518.25V514.00M83.80 514.00H86.20" stroke="#8a9a9a" stroke-width="0.7" fill="none"/>
<path d="M200.10 491.60V490.00M198.90 490.00H201.30" stroke="#8a9a9a" stroke-width="0.7" fill="none"/>
<text x="100.00" y="482.30" font-size="9.0" font-weight="bold" textLength="72.50" lengthAdjust="spacingAndGlyphs" stroke="#1a1a1a" stroke-width="0.42">NFIL3-Site-1-Luc</text>
<text x="94.20" y="551.30" font-size="8.1" text-anchor="end" stroke="#1a1a1a" stroke-width="0.4" transform="rotate(-45 94.20 551.30)" textLength="32.60" lengthAdjust="spacingAndGlyphs">FG9 ONLY</text>
<text x="144.70" y="551.30" font-size="8.1" text-anchor="end" stroke="#1a1a1a" stroke-width="0.4" transform="rotate(-45 144.70 551.30)" textLength="33.20" lengthAdjust="spacingAndGlyphs">STAT6-WT</text>
<text x="195.20" y="551.30" font-size="8.1" text-anchor="end" stroke="#1a1a1a" stroke-width="0.4" transform="rotate(-45 195.20 551.30)" textLength="47.80" lengthAdjust="spacingAndGlyphs">STAT6-419D/G</text>
<line x1="303.75" y1="540.00" x2="456.00" y2="540.00" stroke="#d0d0d0" stroke-width="0.8"/>
<line x1="303.75" y1="532.43" x2="456.00" y2="532.43" stroke="#e6e6e6" stroke-width="0.8"/>
<line x1="303.75" y1="524.86" x2="456.00" y2="524.86" stroke="#e6e6e6" stroke-width="0.8"/>
<line x1="303.75" y1="517.29" x2="456.00" y2="517.29" stroke="#e6e6e6" stroke-width="0.8"/>
<line x1="303.75" y1="509.71" x2="456.00" y2="509.71" stroke="#e6e6e6" stroke-width="0.8"/>
<line x1="303.75" y1="502.14" x2="456.00" y2="502.14" stroke="#e6e6e6" stroke-width="0.8"/>
<line x1="303.75" y1="494.57" x2="456.00" y2="494.57" stroke="#e6e6e6" stroke-width="0.8"/>
<line x1="303.75" y1="487.00" x2="456.00" y2="487.00" stroke="#e6e6e6" stroke-width="0.8"/>
<line x1="303.75" y1="487.00" x2="303.75" y2="540.00" stroke="#e4e4e4" stroke-width="0.8"/>
<text x="299.50" y="542.02" font-size="5.6" textLength="3.55" lengthAdjust="spacingAndGlyphs" text-anchor="end" stroke="#1a1a1a" stroke-width="0.28">0</text>
<text x="299.50" y="534.44" font-size="5.6" textLength="8.72" lengthAdjust="spacingAndGlyphs" text-anchor="end" stroke="#1a1a1a" stroke-width="0.28">0.5</text>
<text x="299.50" y="526.87" font-size="5.6" textLength="3.55" lengthAdjust="spacingAndGlyphs" text-anchor="end" stroke="#1a1a1a" stroke-width="0.28">1</text>
<text x="299.50" y="519.30" font-size="5.6" textLength="8.72" lengthAdjust="spacingAndGlyphs" text-anchor="end" stroke="#1a1a1a" stroke-width="0.28">1.5</text>
<text x="299.50" y="511.73" font-size="5.6" textLength="3.55" lengthAdjust="spacingAndGlyphs" text-anchor="end" stroke="#1a1a1a" stroke-width="0.28">2</text>
<text x="299.50" y="504.16" font-size="5.6" textLength="8.72" lengthAdjust="spacingAndGlyphs" text-anchor="end" stroke="#1a1a1a" stroke-width="0.28">2.5</text>
<text x="299.50" y="496.59" font-size="5.6" textLength="3.55" lengthAdjust="spacingAndGlyphs" text-anchor="end" stroke="#1a1a1a" stroke-width="0.28">3</text>
<text x="299.50" y="489.02" font-size="5.6" textLength="8.72" lengthAdjust="spacingAndGlyphs" text-anchor="end" stroke="#1a1a1a" stroke-width="0.28">3.5</text>
<rect x="315.80" y="524.50" width="14.20" height="15.50" fill="#5c7fc0"/>
<rect x="316.10" y="524.80" width="13.60" height="15.20" fill="none" stroke="#4c6aa8" stroke-width="0.6" stroke-opacity="0.6"/>
<rect x="330.00" y="525.50" width="14.20" height="14.50" fill="#aa5350"/>
<rect x="330.30" y="525.80" width="13.60" height="14.20" fill="none" stroke="#8e4242" stroke-width="0.6" stroke-opacity="0.6"/>
<rect x="366.55" y="525.00" width="14.20" height="15.00" fill="#5c7fc0"/>
<rect x="366.85" y="525.30" width="13.60" height="14.70" fill="none" stroke="#4c6aa8" stroke-width="0.6" stroke-opacity="0.6"/>
<rect x="380.75" y="517.00" width="14.20" height="23.00" fill="#aa5350"/>
<rect x="381.05" y="517.30" width="13.60" height="22.70" fill="none" stroke="#8e4242" stroke-width="0.6" stroke-opacity="0.6"/>
<rect x="417.05" y="524.25" width="14.20" height="15.75" fill="#5c7fc0"/>
<rect x="417.35" y="524.55" width="13.60" height="15.45" fill="none" stroke="#4c6aa8" stroke-width="0.6" stroke-opacity="0.6"/>
<rect x="431.25" y="495.00" width="14.20" height="45.00" fill="#aa5350"/>
<rect x="431.55" y="495.30" width="13.60" height="44.70" fill="none" stroke="#8e4242" stroke-width="0.6" stroke-opacity="0.6"/>
<text x="338.75" y="482.10" font-size="9.0" font-weight="bold" textLength="71.25" lengthAdjust="spacingAndGlyphs" stroke="#1a1a1a" stroke-width="0.42">NFIL3-Site-2-Luc</text>
<text x="332.20" y="551.30" font-size="8.1" text-anchor="end" stroke="#1a1a1a" stroke-width="0.4" transform="rotate(-45 332.20 551.30)" textLength="32.60" lengthAdjust="spacingAndGlyphs">FG9 ONLY</text>
<text x="382.95" y="551.30" font-size="8.1" text-anchor="end" stroke="#1a1a1a" stroke-width="0.4" transform="rotate(-45 382.95 551.30)" textLength="33.20" lengthAdjust="spacingAndGlyphs">STAT6-WT</text>
<text x="433.45" y="551.30" font-size="8.1" text-anchor="end" stroke="#1a1a1a" stroke-width="0.4" transform="rotate(-45 433.45 551.30)" textLength="47.80" lengthAdjust="spacingAndGlyphs">STAT6-419D/G</text>
<rect x="117.90" y="240.0" width="69.50" height="12.30" fill="#cacaca"/>
<rect x="117.90" y="262.1" width="69.50" height="12.40" fill="#cacaca"/>
<rect x="117.90" y="284.1" width="69.50" height="12.70" fill="#cacaca"/>
<rect x="117.90" y="305.5" width="69.50" height="13.40" fill="#cacaca"/>
<rect x="152.50" y="241.80" width="12.10" height="6.80" rx="3.40" fill="#0e0e0e"/>
<rect x="174.70" y="242.10" width="11.70" height="7.30" rx="3.65" fill="#0e0e0e"/>
<rect x="143.50" y="267.45" width="10.00" height="2.5" rx="0.9" fill="#161616"/>
<rect x="154.90" y="267.45" width="9.60" height="2.5" rx="0.9" fill="#161616"/>
<rect x="165.80" y="267.45" width="9.80" height="2.5" rx="0.9" fill="#161616"/>
<rect x="177.30" y="267.80" width="9.30" height="1.8" rx="0.9" fill="#161616"/>
<rect x="142.90" y="288.90" width="9.60" height="2.4" rx="0.9" fill="#161616"/>
<rect x="154.20" y="289.25" width="9.40" height="1.9" rx="0.9" fill="#161616"/>
<rect x="165.50" y="289.70" width="9.10" height="1.8" rx="0.9" fill="#161616"/>
<rect x="176.30" y="288.90" width="9.40" height="2.0" rx="0.9" fill="#161616"/>
<rect x="120.80" y="310.50" width="65.50" height="3.0" fill="#141414"/>
<ellipse cx="125.00" cy="312.0" rx="6.0" ry="2.15" fill="#121212"/>
<ellipse cx="136.00" cy="312.1" rx="6.0" ry="2.15" fill="#121212"/>
<ellipse cx="148.00" cy="311.5" rx="6.0" ry="2.15" fill="#121212"/>
<ellipse cx="158.00" cy="311.8" rx="6.0" ry="2.15" fill="#121212"/>
<ellipse cx="170.50" cy="312.4" rx="6.0" ry="2.15" fill="#121212"/>
<ellipse cx="181.80" cy="312.3" rx="6.0" ry="2.15" fill="#121212"/>
<text x="192.90" y="248.60" font-size="6.1" textLength="22.00" lengthAdjust="spacingAndGlyphs" stroke="#1a1a1a" stroke-width="0.28">p-STAT6</text>
<text x="193.80" y="270.00" font-size="6.1" textLength="16.00" lengthAdjust="spacingAndGlyphs" stroke="#1a1a1a" stroke-width="0.28">STAT6</text>
<text x="193.50" y="292.20" font-size="6.1" textLength="8.10" lengthAdjust="spacingAndGlyphs" stroke="#1a1a1a" stroke-width="0.28">HA</text>
<text x="193.30" y="314.60" font-size="6.1" textLength="16.70" lengthAdjust="spacingAndGlyphs" stroke="#1a1a1a" stroke-width="0.28">ACTIN</text>
<line x1="122.80" y1="321.70" x2="142.70" y2="321.70" stroke="#2a2a2a" stroke-width="1.0"/>
<line x1="145.70" y1="321.70" x2="165.10" y2="321.70" stroke="#2a2a2a" stroke-width="1.0"/>
<line x1="167.60" y1="321.70" x2="187.50" y2="321.70" stroke="#2a2a2a" stroke-width="1.0"/>
<text x="132.55" y="330.20" font-size="6.3" textLength="11.00" lengthAdjust="spacingAndGlyphs" text-anchor="middle" stroke="#1a1a1a" stroke-width="0.28">FG9</text>
<text x="132.55" y="338.50" font-size="6.3" textLength="14.80" lengthAdjust="spacingAndGlyphs" text-anchor="middle" stroke="#1a1a1a" stroke-width="0.28">ONLY</text>
<text x="155.55" y="330.20" font-size="6.3" textLength="16.20" lengthAdjust="spacingAndGlyphs" text-anchor="middle" stroke="#1a1a1a" stroke-width="0.28">STAT6</text>
<text x="155.55" y="338.50" font-size="6.3" textLength="8.40" lengthAdjust="spacingAndGlyphs" text-anchor="middle" stroke="#1a1a1a" stroke-width="0.28">WT</text>
<text x="177.90" y="330.20" font-size="6.3" textLength="15.60" lengthAdjust="spacingAndGlyphs" text-anchor="middle" stroke="#1a1a1a" stroke-width="0.28">STAT6</text>
<text x="177.90" y="338.50" font-size="6.3" textLength="21.20" lengthAdjust="spacingAndGlyphs" text-anchor="middle" stroke="#1a1a1a" stroke-width="0.28">419D/G</text>
<text x="126.60" y="346.80" font-size="6.0" text-anchor="middle" stroke="#1a1a1a" stroke-width="0.28">-</text>
<text x="137.40" y="346.80" font-size="6.0" text-anchor="middle" stroke="#1a1a1a" stroke-width="0.28">+</text>
<text x="148.70" y="346.80" font-size="6.0" text-anchor="middle" stroke="#1a1a1a" stroke-width="0.28">-</text>
<text x="159.10" y="346.80" font-size="6.0" text-anchor="middle" stroke="#1a1a1a" stroke-width="0.28">+</text>
<text x="172.00" y="346.80" font-size="6.0" text-anchor="middle" stroke="#1a1a1a" stroke-width="0.28">-</text>
<text x="182.80" y="346.80" font-size="6.0" text-anchor="middle" stroke="#1a1a1a" stroke-width="0.28">+</text>
<rect x="357.00" y="240.0" width="69.50" height="12.30" fill="#cacaca"/>
<rect x="357.00" y="262.1" width="69.50" height="12.40" fill="#cacaca"/>
<rect x="357.00" y="284.1" width="69.50" height="12.70" fill="#cacaca"/>
<rect x="357.00" y="305.5" width="69.50" height="13.40" fill="#cacaca"/>
<rect x="391.00" y="243.20" width="12.30" height="6.80" rx="3.40" fill="#0e0e0e"/>
<rect x="413.20" y="242.90" width="12.20" height="6.50" rx="3.25" fill="#0e0e0e"/>
<rect x="381.80" y="266.50" width="9.80" height="2.6" rx="0.9" fill="#161616"/>
<rect x="393.00" y="266.55" width="9.20" height="2.5" rx="0.9" fill="#161616"/>
<rect x="403.50" y="266.55" width="9.40" height="2.5" rx="0.9" fill="#161616"/>
<rect x="415.00" y="266.90" width="9.20" height="1.8" rx="0.9" fill="#161616"/>
<rect x="382.20" y="289.55" width="8.40" height="1.9" rx="0.9" fill="#161616"/>
<rect x="393.00" y="289.40" width="8.70" height="2.2" rx="0.9" fill="#161616"/>
<rect x="403.50" y="289.30" width="9.40" height="2.2" rx="0.9" fill="#161616"/>
<rect x="415.00" y="289.45" width="9.20" height="2.1" rx="0.9" fill="#161616"/>
<rect x="359.40" y="310.80" width="64.80" height="3.0" fill="#141414"/>
<ellipse cx="363.20" cy="312.4" rx="6.0" ry="2.15" fill="#121212"/>
<ellipse cx="374.70" cy="312.5" rx="6.0" ry="2.15" fill="#121212"/>
<ellipse cx="386.30" cy="312.3" rx="6.0" ry="2.15" fill="#121212"/>
<ellipse cx="397.10" cy="312.4" rx="6.0" ry="2.15" fill="#121212"/>
<ellipse cx="407.90" cy="311.9" rx="6.0" ry="2.15" fill="#121212"/>
<ellipse cx="419.50" cy="311.8" rx="6.0" ry="2.15" fill="#121212"/>
<text x="431.80" y="248.60" font-size="6.1" textLength="22.00" lengthAdjust="spacingAndGlyphs" stroke="#1a1a1a" stroke-width="0.28">p-STAT6</text>
<text x="432.70" y="270.00" font-size="6.1" textLength="16.00" lengthAdjust="spacingAndGlyphs" stroke="#1a1a1a" stroke-width="0.28">STAT6</text>
<text x="432.40" y="292.20" font-size="6.1" textLength="8.10" lengthAdjust="spacingAndGlyphs" stroke="#1a1a1a" stroke-width="0.28">HA</text>
<text x="432.20" y="314.60" font-size="6.1" textLength="16.70" lengthAdjust="spacingAndGlyphs" stroke="#1a1a1a" stroke-width="0.28">ACTIN</text>
<line x1="359.70" y1="321.30" x2="379.60" y2="321.30" stroke="#2a2a2a" stroke-width="1.0"/>
<line x1="382.60" y1="321.30" x2="402.00" y2="321.30" stroke="#2a2a2a" stroke-width="1.0"/>
<line x1="404.50" y1="321.30" x2="424.40" y2="321.30" stroke="#2a2a2a" stroke-width="1.0"/>
<text x="369.45" y="329.40" font-size="6.3" textLength="11.00" lengthAdjust="spacingAndGlyphs" text-anchor="middle" stroke="#1a1a1a" stroke-width="0.28">FG9</text>
<text x="369.45" y="337.70" font-size="6.3" textLength="14.80" lengthAdjust="spacingAndGlyphs" text-anchor="middle" stroke="#1a1a1a" stroke-width="0.28">ONLY</text>
<text x="392.45" y="329.40" font-size="6.3" textLength="16.20" lengthAdjust="spacingAndGlyphs" text-anchor="middle" stroke="#1a1a1a" stroke-width="0.28">STAT6</text>
<text x="392.45" y="337.70" font-size="6.3" textLength="8.40" lengthAdjust="spacingAndGlyphs" text-anchor="middle" stroke="#1a1a1a" stroke-width="0.28">WT</text>
<text x="414.80" y="329.40" font-size="6.3" textLength="15.60" lengthAdjust="spacingAndGlyphs" text-anchor="middle" stroke="#1a1a1a" stroke-width="0.28">STAT6</text>
<text x="414.80" y="337.70" font-size="6.3" textLength="21.20" lengthAdjust="spacingAndGlyphs" text-anchor="middle" stroke="#1a1a1a" stroke-width="0.28">419D/G</text>
<text x="363.50" y="346.53" font-size="6.0" text-anchor="middle" stroke="#1a1a1a" stroke-width="0.28">-</text>
<text x="374.30" y="346.53" font-size="6.0" text-anchor="middle" stroke="#1a1a1a" stroke-width="0.28">+</text>
<text x="385.60" y="346.53" font-size="6.0" text-anchor="middle" stroke="#1a1a1a" stroke-width="0.28">-</text>
<text x="396.00" y="346.53" font-size="6.0" text-anchor="middle" stroke="#1a1a1a" stroke-width="0.28">+</text>
<text x="408.90" y="346.53" font-size="6.0" text-anchor="middle" stroke="#1a1a1a" stroke-width="0.28">-</text>
<text x="419.70" y="346.53" font-size="6.0" text-anchor="middle" stroke="#1a1a1a" stroke-width="0.28">+</text>
<text x="81.80" y="342.80" font-size="6.0" text-anchor="middle" stroke="#1a1a1a" stroke-width="0.28">IL-4</text>
<text x="81.80" y="351.20" font-size="6.0" textLength="53.00" lengthAdjust="spacingAndGlyphs" text-anchor="middle" stroke="#1a1a1a" stroke-width="0.28">(10ng/ml for 6 hrs)</text>
<text x="319.20" y="342.80" font-size="6.0" text-anchor="middle" stroke="#1a1a1a" stroke-width="0.28">IL-4</text>
<text x="319.20" y="351.20" font-size="6.0" textLength="53.00" lengthAdjust="spacingAndGlyphs" text-anchor="middle" stroke="#1a1a1a" stroke-width="0.28">(10ng/ml for 6 hrs)</text>
<text x="1.20" y="11.20" font-size="11.3" font-weight="bold" stroke="#1a1a1a" stroke-width="0.45">A</text>
<text x="44.00" y="130.40" font-size="11.3" font-weight="bold" stroke="#1a1a1a" stroke-width="0.45">B</text>
<text x="281.00" y="130.40" font-size="11.3" font-weight="bold" stroke="#1a1a1a" stroke-width="0.45">C</text>
<text x="0.40" y="366.80" font-size="11.3" font-weight="bold" stroke="#1a1a1a" stroke-width="0.45">D</text>
<rect x="180.5" y="584.5" width="4.8" height="4.8" fill="#5c7fc0"/>
<text x="188.80" y="590.40" font-size="8.0" textLength="47.50" lengthAdjust="spacingAndGlyphs" stroke="#1a1a1a" stroke-width="0.12">without IL-4</text>
<rect x="251" y="584.8" width="4.8" height="4.8" fill="#aa5350"/>
<text x="259.00" y="590.40" font-size="8.0" textLength="87.70" lengthAdjust="spacingAndGlyphs" stroke="#1a1a1a" stroke-width="0.12">10ng/ml IL-4 for 6 hrs</text>
</svg>
</body></html>
